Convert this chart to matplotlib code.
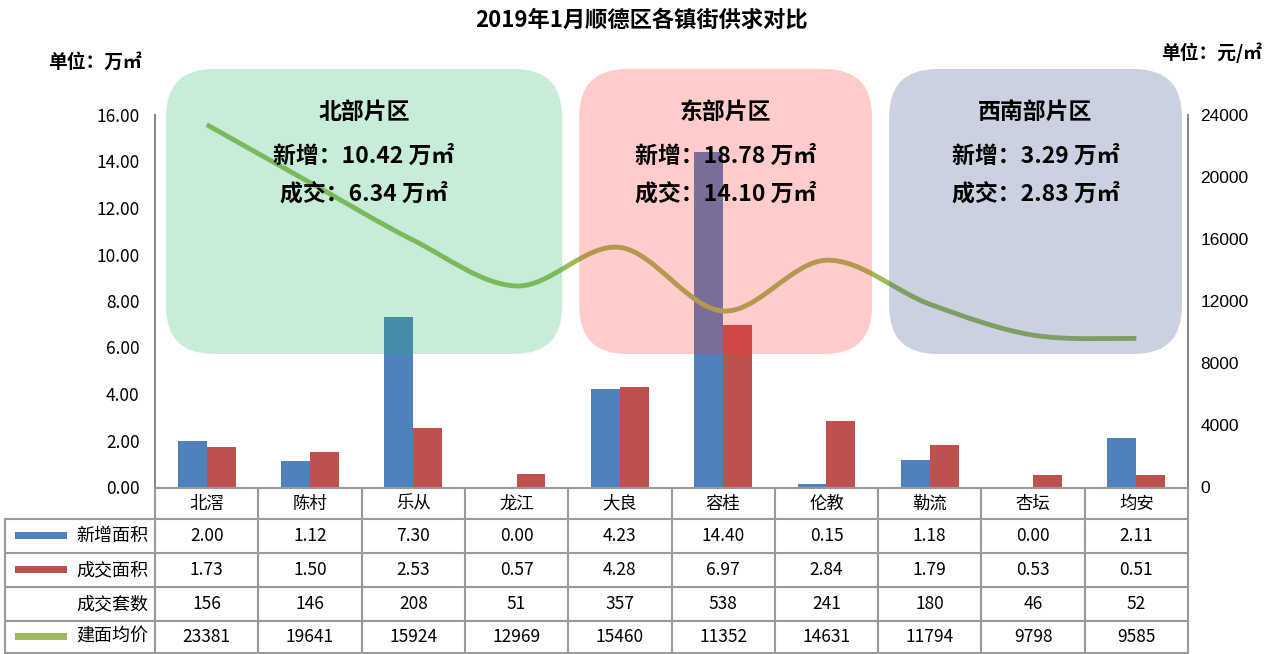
import numpy as np
import matplotlib
matplotlib.use("Agg")
import matplotlib.pyplot as plt
import matplotlib.transforms as mtransforms
from matplotlib.patches import FancyBboxPatch, PathPatch, Rectangle
from matplotlib.path import Path
from matplotlib.lines import Line2D

plt.rcParams['font.family'] = ['Noto Sans CJK SC', 'DejaVu Sans']

# 数据
towns = ["北滘", "陈村", "乐从", "龙江", "大良", "容桂", "伦教", "勒流", "杏坛", "均安"]
new_area = [2.00, 1.12, 7.30, 0.00, 4.23, 14.40, 0.15, 1.18, 0.00, 2.11]
deal_area = [1.73, 1.50, 2.53, 0.57, 4.28, 6.97, 2.84, 1.79, 0.53, 0.51]
deal_units = [156, 146, 208, 51, 357, 538, 241, 180, 46, 52]
avg_price = [23381, 19641, 15924, 12969, 15460, 11352, 14631, 11794, 9798, 9585]

zones = ["北部片区", "东部片区", "西南部片区"]
zone_first = [0, 4, 7]
zone_last = [3, 6, 9]
zone_new = [10.42, 18.78, 3.29]
zone_deal = [6.34, 14.10, 2.83]

W, H = 1272, 654
BLUE, RED, GREEN = '#4F81BD', '#C0504D', '#9BBB59'
GRID = '#9A9A9A'
zone_colors = ['#23B763', '#FF3333', '#334B87']

fig = plt.figure(figsize=(W / 100, H / 100), dpi=100)
fig.patch.set_facecolor('white')
ax = fig.add_axes([155 / W, 1 - 487 / H, (1188 - 155) / W, (487 - 115) / H])
ax.set_facecolor('none')
ax2 = ax.twinx()

x = np.arange(len(towns))
ax.bar(x - 0.14, new_area, 0.28, color=BLUE, zorder=2)
ax.bar(x + 0.14, deal_area, 0.28, color=RED, zorder=2)
ax.set_xlim(-0.5, len(towns) - 0.5)
ax.set_ylim(0, 16)
ax.set_yticks(np.arange(0, 16.01, 2))
ax.set_yticklabels(['%.2f' % v for v in np.arange(0, 16.01, 2)], fontsize=12.5)
ax.set_xticks([])
ax.tick_params(axis='y', length=0, pad=11)

ax2.set_ylim(0, 24000)
ax2.set_yticks(range(0, 24001, 4000))
ax2.set_yticklabels([str(v) for v in range(0, 24001, 4000)],
                    fontsize=12.5, fontfamily='Liberation Sans')
ax2.tick_params(axis='y', length=0, pad=9)

for a in (ax, ax2):
    a.spines['top'].set_visible(False)
    a.spines['bottom'].set_visible(False)
    a.spines['left'].set_color('#868686')
    a.spines['right'].set_color('#868686')
    a.spines['left'].set_linewidth(1.3)
    a.spines['right'].set_linewidth(1.3)

# 平滑曲线 (贝塞尔)
xs = x.astype(float)
ys = np.array(avg_price, float)
n = len(xs)
verts = [(xs[0], ys[0])]
codes = [Path.MOVETO]
for i in range(n - 1):
    p0 = max(i - 1, 0)
    p3 = min(i + 2, n - 1)
    c1 = (xs[i] + (xs[i + 1] - xs[p0]) / 6, ys[i] + (ys[i + 1] - ys[p0]) / 6)
    c2 = (xs[i + 1] - (xs[p3] - xs[i]) / 6, ys[i + 1] - (ys[p3] - ys[i]) / 6)
    verts += [c1, c2, (xs[i + 1], ys[i + 1])]
    codes += [Path.CURVE4] * 3
ax2.add_patch(PathPatch(Path(verts, codes), fill=False, edgecolor=GREEN,
                        lw=3.5, capstyle='butt', zorder=3))

fig.canvas.draw()
ident = mtransforms.IdentityTransform()


def px(xd):
    return ax.transData.transform((xd, 0))[0]


# 片区框
for k, name in enumerate(zones):
    x0 = px(zone_first[k] - 0.5) + 11
    x1 = px(zone_last[k] + 0.5) - 6
    y0, y1 = H - 354, H - 69
    box = FancyBboxPatch((x0, y0), x1 - x0, y1 - y0,
                         boxstyle='round,pad=0,rounding_size=48',
                         transform=ident, facecolor=zone_colors[k],
                         edgecolor='none', alpha=0.25, zorder=1)
    fig.add_artist(box)
    cx = (x0 + x1) / 2
    fig.text(cx / W, 1 - 112 / H, name, ha='center', va='center',
             fontsize=16.5, fontweight='bold')
    fig.text(cx / W, 1 - 156 / H, '新增：%.2f 万㎡' % zone_new[k], ha='center',
             va='center', fontsize=16.5, fontweight='bold')
    fig.text(cx / W, 1 - 194 / H, '成交：%.2f 万㎡' % zone_deal[k], ha='center',
             va='center', fontsize=16.5, fontweight='bold')

# 标题与单位
fig.text(641 / W, 1 - 20 / H, '2019年1月顺德区各镇街供求对比', ha='center',
         va='center', fontsize=16, fontweight='bold')
fig.text(95 / W, 1 - 62 / H, '单位：万㎡', ha='center', va='center',
         fontsize=13.5, fontweight='bold')
fig.text(1262 / W, 1 - 53 / H, '单位：元/㎡', ha='right', va='center',
         fontsize=13.5, fontweight='bold')

# 数据表
rows_y = [488, 519, 553, 587, 621, 653]
left_px = 5
col_x = [px(i - 0.5) for i in range(len(towns) + 1)]


def hline(xa, xb, ypix):
    fig.add_artist(Line2D([xa, xb], [H - ypix, H - ypix], transform=ident,
                          color=GRID, lw=1.5, zorder=2))


def vline(xp, ya, yb):
    fig.add_artist(Line2D([xp, xp], [H - ya, H - yb], transform=ident,
                          color=GRID, lw=1.5, zorder=2))


hline(col_x[0], col_x[-1], rows_y[0])
for r in rows_y[1:]:
    hline(left_px, col_x[-1], r)
for c in col_x:
    vline(c, rows_y[0], rows_y[-1])
vline(left_px, rows_y[1], rows_y[-1])

row_labels = ['新增面积', '成交面积', '成交套数', '建面均价']
row_vals = [['%.2f' % v for v in new_area],
            ['%.2f' % v for v in deal_area],
            [str(v) for v in deal_units],
            [str(v) for v in avg_price]]
key_colors = [BLUE, RED, None, GREEN]

for i, t in enumerate(towns):
    cx = (col_x[i] + col_x[i + 1]) / 2
    fig.text(cx / W, 1 - (rows_y[0] + rows_y[1]) / 2 / H, t, ha='center',
             va='center', fontsize=12.5)
for r, lab in enumerate(row_labels):
    cy = (rows_y[r + 1] + rows_y[r + 2]) / 2
    fig.text(148 / W, 1 - cy / H, lab, ha='right', va='center', fontsize=13)
    if key_colors[r] is not None:
        fig.add_artist(Rectangle((15, H - cy - 3), 52, 7, transform=ident,
                                 facecolor=key_colors[r], edgecolor='none',
                                 zorder=2))
    for i, v in enumerate(row_vals[r]):
        cx = (col_x[i] + col_x[i + 1]) / 2
        fig.text(cx / W, 1 - cy / H, v, ha='center', va='center', fontsize=12.5)

fig.savefig('out.png', dpi=100)
